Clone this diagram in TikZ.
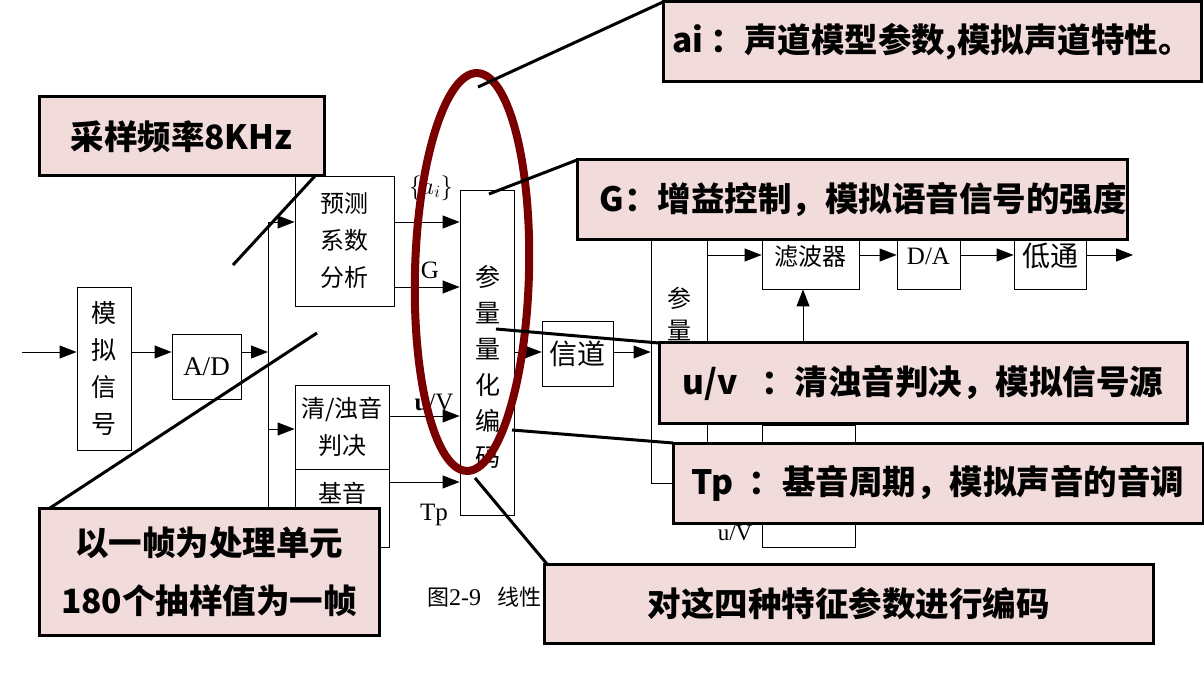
\documentclass[tikz,border=0pt]{standalone}
\usepackage{fontspec}
\setmainfont{Liberation Serif}
\newfontfamily\cjk{Noto Sans CJK SC}
\usetikzlibrary{arrows.meta,calc}
\definecolor{calloutfill}{RGB}{242,220,219}
\definecolor{ringred}{RGB}{122,0,0}
\begin{document}
\begin{tikzpicture}[x=1pt,y=-1pt,
  blk/.style={draw,line width=0.9pt,inner sep=0pt,font=\cjk\fontsize{24}{37}\selectfont,align=center},
  arr/.style={line width=0.9pt,-{Triangle[length=17pt,width=13pt]}},
  wire/.style={line width=0.9pt},
  txt/.style={font=\cjk\fontsize{24}{36}\selectfont,align=center,inner sep=0pt},
  lbl/.style={font=\fontsize{25}{25}\selectfont,inner sep=0pt},
  callout/.style={draw,line width=3pt,fill=calloutfill,inner sep=0pt,font=\cjk\bfseries\fontsize{33.5}{58}\selectfont,align=center},
  cline/.style={line width=3pt},
]
\useasboundingbox (0,0) rectangle (1204,684);

% ---------- blocks ----------
\node[blk,minimum width=54,minimum height=163,font=\cjk\fontsize{25}{37}\selectfont] (msig) at (104,368.5) {模\\拟\\信\\号};
\node[blk,minimum width=69,minimum height=65,font=\fontsize{27}{27}\selectfont] (ad) at (206.5,366.5) {A/D};
\node[blk,minimum width=99,minimum height=130] (pred) at (344.5,241) {预测\\系数\\分析};
\node[blk,minimum width=94,minimum height=84] (uvd) at (342,427) {清/浊音\\判决};
\node[blk,minimum width=94,minimum height=78] (pitch) at (342,508) {};
\node[txt] (pitchtxt) at (342,493) {基音};
\node[blk,minimum width=54,minimum height=325] (coder) at (487,352.5) {};
\node[txt,font=\cjk\fontsize{25}{36}\selectfont] (codertxt) at (488,367) {参\\量\\量\\化\\编\\码};
\node[blk,minimum width=71,minimum height=65,font=\cjk\fontsize{28}{28}\selectfont] (chan) at (577.5,353.5) {信道};
\node[blk,minimum width=56,minimum height=258] (dec) at (679,354) {};
\node[txt,font=\cjk\fontsize{24}{32}\selectfont] (dectxt) at (679,314) {参\\量};
\node[blk,minimum width=97,minimum height=66] (filt) at (810.5,256) {滤波器};
\node[blk,minimum width=63,minimum height=66,font=\fontsize{25}{25}\selectfont] (da) at (928.5,256) {D/A};
\node[blk,minimum width=72,minimum height=66,font=\cjk\fontsize{28}{28}\selectfont] (lp) at (1050,256) {低通};
\node[blk,minimum width=93,minimum height=122] (exc) at (808.5,486) {};
\node[txt] (exctxt) at (808,453) {激励};

% ---------- coordinates ----------
\coordinate (in) at (22,352);
\coordinate (bustop) at (268,222);
\coordinate (busbot) at (268,507);
\coordinate (busmid) at (268,352);
\coordinate (busuv) at (268,429);
\coordinate (gy) at (0,287);
\coordinate (uvy) at (0,416);
\coordinate (tpy) at (0,482);
\coordinate (out) at (1133,255);
\coordinate (excx) at (803,0);

% ---------- connectors ----------
\draw[arr] (in) -- (in -| msig.west);
\draw[arr] (in -| msig.east) -- (in -| ad.west);
\draw[arr] (in -| ad.east) -- (busmid);
\draw[wire] (bustop) -- (busbot);
\draw[arr] (bustop) -- (bustop -| pred.west);
\draw[arr] (busuv) -- (busuv -| uvd.west);
\draw[arr] (bustop -| pred.east) -- (bustop -| coder.west);
\draw[arr] (gy -| pred.east) -- (gy -| coder.west);
\draw[arr] (uvy -| uvd.east) -- (uvy -| coder.west);
\draw[arr] (tpy -| pitch.east) -- (tpy -| coder.west);
\draw[arr] (in -| coder.east) -- (in -| chan.west);
\draw[arr] (in -| chan.east) -- (in -| dec.west);
\draw[arr] (out -| dec.east) -- (out -| filt.west);
\draw[arr] (out -| filt.east) -- (out -| da.west);
\draw[arr] (out -| da.east) -- (out -| lp.west);
\draw[arr] (out -| lp.east) -- (out);
\draw[arr] (excx |- exc.north) -- (excx |- filt.south);

% ---------- labels ----------
\node[lbl] (lai) at (431,188) {$\{a_i\}$};
\node[lbl] (lG) at (430,270) {G};
\node[lbl] (luv) at (434,402) {\textbf{u}/V};
\node[lbl] (ltp) at (434,515) {Tp};
\node[lbl,font=\fontsize{23}{23}\selectfont] (luv2) at (735,533) {u/V};
\node[font=\cjk\fontsize{22}{22}\selectfont,anchor=west,inner sep=0pt] (cap) at (427,597) {图{\rmfamily\fontsize{24}{24}\selectfont 2-9}\hspace{16pt}线性};

% ---------- highlight ring ----------
\draw[ringred,line width=8pt,rotate around={-1.5:(472,272)}] (472,272) ellipse [x radius=57,y radius=199];

% ---------- callout leaders ----------
\coordinate (p1) at (233,265);
\coordinate (p2) at (317,333);
\coordinate (p3) at (478,87);
\coordinate (p4) at (489,194);
\coordinate (p5) at (496,329);
\coordinate (p6) at (512,430);
\coordinate (p7) at (475,478);
\coordinate (c1a) at (315,176);
\coordinate (c2a) at (50,508);
\coordinate (c3a) at (663,2);
\coordinate (c4a) at (577,160);
\coordinate (c5a) at (659,343);
\coordinate (c6a) at (673,443);
\coordinate (c7a) at (547,564);
\draw[cline] (c1a) -- (p1);
\draw[cline] (c2a) -- (p2);
\draw[cline] (c3a) -- (p3);
\draw[cline] (c4a) -- (p4);
\draw[cline] (c5a) -- (p5);
\draw[cline] (c6a) -- (p6);
\draw[cline] (c7a) -- (p7);

% ---------- callouts ----------
\node[callout,minimum width=285,minimum height=79] (c1) at (181.5,136.5) {采样频率8KHz};
\node[callout,minimum width=340,minimum height=127] (c2) at (209,571.5) {以一帧为处理单元\\180个抽样值为一帧};
\node[callout,minimum width=538,minimum height=80] (c3) at (932,42) {ai\ ：声道模型参数,模拟声道特性。};
\node[callout,minimum width=550,minimum height=80] (c4) at (852,200) {\hspace*{22pt}G：增益控制，模拟语音信号的强度};
\node[callout,minimum width=528,minimum height=80] (c5) at (923,383) {u/v\ \ \ ：清浊音判决，模拟信号源};
\node[callout,minimum width=530,minimum height=80] (c6) at (938,483) {Tp\ \ ：基音周期，模拟声音的音调};
\node[callout,minimum width=609,minimum height=79] (c7) at (848.5,603.5) {对这四种特征参数进行编码};
\end{tikzpicture}
\end{document}
